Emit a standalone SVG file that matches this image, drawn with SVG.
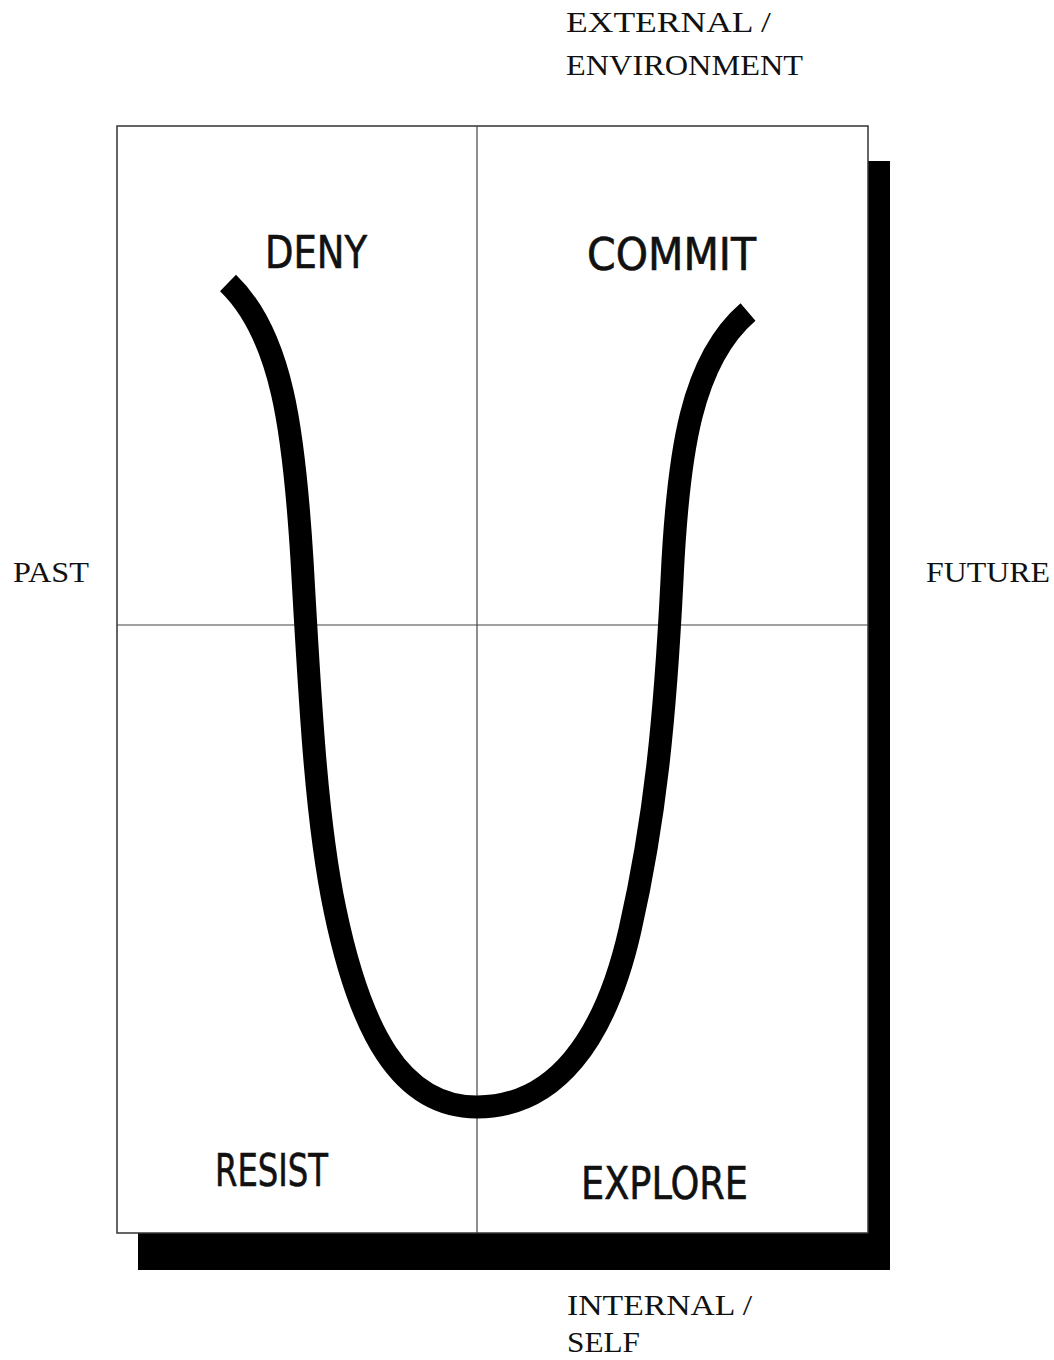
<svg xmlns="http://www.w3.org/2000/svg" width="1054" height="1360" viewBox="0 0 1054 1360">
<style>
.serif{font-family:"Liberation Serif","Times New Roman",serif;font-size:30px;fill:#111}
.sans{font-family:"DejaVu Sans Condensed","Liberation Sans",Arial,sans-serif;font-size:45px;fill:#111;stroke:#111;stroke-width:0.6}
.frame{fill:#fff;stroke:#333;stroke-width:1.5}
.div{stroke:#444;stroke-width:1.2;fill:none}
.shadow{fill:#000}
</style>
<rect width="1054" height="1360" fill="#fff"/>
<g id="shadow">
<rect class="shadow" x="868" y="161" width="22" height="1109"/>
<rect class="shadow" x="138" y="1233" width="752" height="37"/>
</g>
<g id="frame">
<rect class="frame" x="117" y="126" width="751" height="1107"/>
<line class="div" x1="477" y1="126" x2="477" y2="1233"/>
<line class="div" x1="117" y1="625" x2="868" y2="625"/>
</g>
<g id="connectors">
<path d="M228,283 C282,335 294,430 302,560 C310,700 316,820 335,910 C360,1030 400,1107 477,1107 C555,1107 605,1040 630,930 C655,820 665,720 672,580 C678,450 692,360 748,312" fill="none" stroke="#000" stroke-width="23" stroke-linecap="butt"/>
</g>
<g id="node-deny"><text class="sans" x="265" y="268" textLength="102" lengthAdjust="spacingAndGlyphs">DENY</text></g>
<g id="node-commit"><text class="sans" x="587" y="270" textLength="169" lengthAdjust="spacingAndGlyphs">COMMIT</text></g>
<g id="node-resist"><text class="sans" x="215" y="1186" textLength="113" lengthAdjust="spacingAndGlyphs">RESIST</text></g>
<g id="node-explore"><text class="sans" x="581" y="1199" textLength="167" lengthAdjust="spacingAndGlyphs">EXPLORE</text></g>
<g id="label-external">
<text class="serif" x="566" y="32" textLength="205" lengthAdjust="spacingAndGlyphs">EXTERNAL /</text>
<text class="serif" x="566" y="75" textLength="237" lengthAdjust="spacingAndGlyphs">ENVIRONMENT</text>
</g>
<g id="label-internal">
<text class="serif" x="567" y="1315" textLength="185" lengthAdjust="spacingAndGlyphs">INTERNAL /</text>
<text class="serif" x="567" y="1352" textLength="73" lengthAdjust="spacingAndGlyphs">SELF</text>
</g>
<g id="label-past"><text class="serif" x="13" y="582" textLength="76" lengthAdjust="spacingAndGlyphs">PAST</text></g>
<g id="label-future"><text class="serif" x="926" y="582" textLength="124" lengthAdjust="spacingAndGlyphs">FUTURE</text></g>
</svg>
